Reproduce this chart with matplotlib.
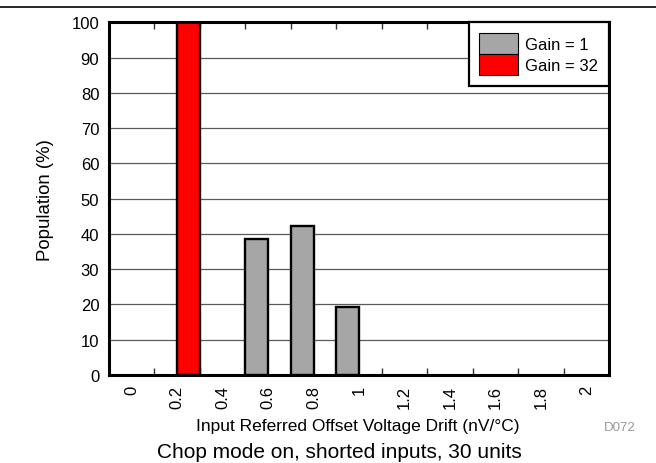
import matplotlib
matplotlib.use("Agg")
import matplotlib.pyplot as plt
from matplotlib.lines import Line2D
from matplotlib.patches import Patch
import numpy as np

plt.rcParams['font.family'] = ['Liberation Sans', 'DejaVu Sans']

categories = ["0", "0.2", "0.4", "0.6", "0.8", "1", "1.2", "1.4", "1.6", "1.8", "2"]
gain1 = [0, 0, 0, 38.46, 42.31, 19.23, 0, 0, 0, 0, 0]
gain32 = [0, 100, 0, 0, 0, 0, 0, 0, 0, 0, 0]
series_labels = ["Gain = 1", "Gain = 32"]
series_colors = ["#A6A6A6", "#FF0000"]
yticks = list(range(0, 101, 10))

W, H = 656, 464
fig = plt.figure(figsize=(W / 100, H / 100), dpi=100)
L, R, T, B = 109, 609, 23.3, 376
ax = fig.add_axes([L / W, 1 - B / H, (R - L) / W, (B - T) / H])

x = np.arange(len(categories))
bw = 0.5
g1 = np.array(gain1, dtype=float)
g32 = np.array(gain32, dtype=float)
m1 = g1 > 0
m32 = g32 > 0
ax.bar(x[m1] - bw / 2, g1[m1], width=bw, color=series_colors[0],
       edgecolor="black", linewidth=1.7, zorder=3)
ax.bar(x[m32] + bw / 2, g32[m32], width=bw, color=series_colors[1],
       edgecolor="black", linewidth=1.7, zorder=3)

ax.set_xlim(-0.5, len(categories) - 0.5)
ax.set_ylim(0, 100)
ax.set_yticks(yticks)
ax.set_yticklabels([str(v) for v in yticks], fontsize=12)
ax.set_xticks(x)
ax.set_xticklabels(categories, rotation=90, fontsize=12)
ax.set_xticks(np.arange(0.5, len(categories) - 1, 1.0), minor=True)
ax.tick_params(axis="x", which="major", length=0, pad=7)
ax.tick_params(axis="x", which="minor", direction="in", length=5,
               width=1, top=True, bottom=True, color="#333333")
ax.tick_params(axis="y", which="major", length=0, pad=7)

ax.yaxis.grid(True, color="#5a5a5a", linewidth=0.9)
ax.set_axisbelow(True)
for s in ax.spines.values():
    s.set_linewidth(2.2)
    s.set_zorder(5)

handles = [Patch(facecolor=c, edgecolor="black", linewidth=0.8) for c in series_colors]
leg = ax.legend(handles, series_labels, loc="upper right", bbox_to_anchor=(1, 1),
                borderaxespad=0, fontsize=12, handlelength=2.3, handleheight=1.55,
                labelspacing=0.0, handletextpad=0.45, borderpad=0.65,
                fancybox=False, framealpha=1, edgecolor="black")
leg.get_frame().set_linewidth(1.6)
leg.set_zorder(6)

fig.text(45 / W, 1 - 200 / H, "Population (%)", rotation=90, fontsize=13.4,
         ha="center", va="center")
fig.text(357.5 / W, 1 - 426.5 / H, "Input Referred Offset Voltage Drift (nV/°C)",
         fontsize=12.5, ha="center", va="center")
fig.text(339.5 / W, 1 - 453 / H, "Chop mode on, shorted inputs, 30 units",
         fontsize=15, ha="center", va="center")
fig.text(620 / W, 1 - 428 / H, "D072", fontsize=9.5, color="#999999",
         ha="center", va="center")
fig.add_artist(Line2D([0, 1], [1 - 8 / H, 1 - 8 / H], color="black",
                      linewidth=1.2, transform=fig.transFigure))

fig.savefig("out.png", dpi=100)
